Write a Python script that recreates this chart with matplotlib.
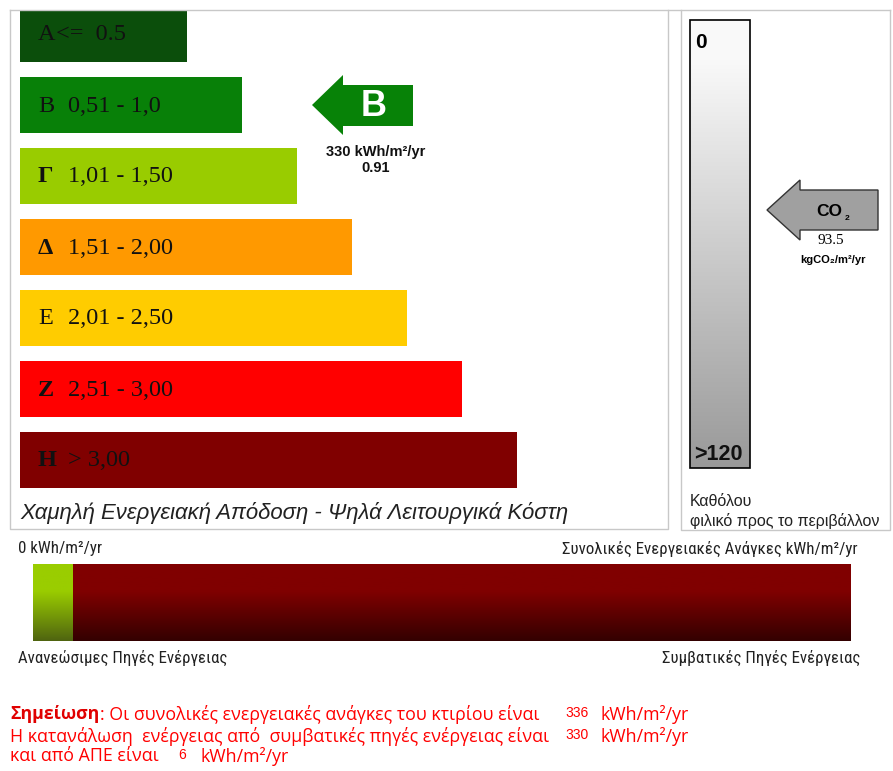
import numpy as np
import matplotlib
matplotlib.use("Agg")
import matplotlib.pyplot as plt
from matplotlib.patches import Polygon, Rectangle
from matplotlib import font_manager
from matplotlib.font_manager import FontProperties

# --- data ---
class_letters = ["A", "B", "Γ", "Δ", "Ε", "Ζ", "Η"]
class_ranges = ["<=  0.5", "0,51 - 1,0", "1,01 - 1,50", "1,51 - 2,00", "2,01 - 2,50", "2,51 - 3,00", "> 3,00"]
class_upper = [0.5, 1.0, 1.5, 2.0, 2.5, 3.0, 3.5]
class_colors = ["#0b4e0b", "#088008", "#99cc00", "#ff9900", "#ffcc00", "#ff0000", "#800000"]
class_bold = [False, False, True, True, False, True, True]

rating_value = 0.91
rating_class = "B"
energy_kwh = 330
co2_value = 93.5
co2_scale = ["0", ">120"]

total_need = 336
conventional = 330
renewable = 6

W, H = 893, 771
fig = plt.figure(figsize=(W / 100, H / 100), dpi=100)
ax = fig.add_axes([0, 0, 1, 1])
ax.set_xlim(0, W)
ax.set_ylim(H, 0)
ax.axis("off")

# condensed sans face for the bar captions (Roboto Condensed if present)
def find_face(bold):
    prefs = ["Liberation Sans Narrow", "Roboto Condensed", "Open Sans Condensed", "DejaVu Sans Condensed"]
    cands = []
    for f in font_manager.fontManager.ttflist:
        w = f.weight if isinstance(f.weight, int) else (700 if f.weight == "bold" else 400)
        if f.style != "normal" or (w >= 600) != bold:
            continue
        if "Narrow" in f.name or "Condensed" in f.name or "ondensed" in f.fname or f.stretch in ("condensed", "semi-condensed"):
            cands.append(f)
    cands.sort(key=lambda f: min([i for i, p in enumerate(prefs) if p.split()[0] in f.name] or [99]))
    return cands[0] if cands else None

nf = find_face(False)
NARROW = FontProperties(fname=nf.fname) if nf else FontProperties(family="Liberation Sans")

SANS = ["Liberation Sans", "DejaVu Sans"]
SERIF = ["Liberation Serif", "DejaVu Serif"]
WIDE = ["Open Sans", "DejaVu Sans"]

def ntext(x, y, s, size, **kw):
    fp = NARROW.copy()
    fp.set_size(size)
    return ax.text(x, y, s, fontproperties=fp, **kw)

edge = "#c8c8c8"
# panel frames
ax.plot([10, 890], [10, 10], color=edge, lw=1)
ax.plot([10, 10, 668, 668], [10, 529, 529, 10], color=edge, lw=1)
ax.plot([681, 681, 890, 890], [10, 530, 530, 10], color=edge, lw=1)

# energy class bars
row_h, row_step, first_center = 56, 71, 34
centers = [first_center + row_step * i for i in range(len(class_letters))]
lengths = [112 + 110 * u for u in class_upper]
bars = ax.barh(centers, lengths, height=row_h, left=20, color=class_colors)
clip = Rectangle((10, 10), 658, 519, transform=ax.transData)
for b in bars:
    b.set_clip_path(clip)
for c, let, rng, bold in zip(centers, class_letters, class_ranges, class_bold):
    ax.text(38, c + 1, let, fontsize=17.5, family=SERIF, fontweight="bold" if bold else "normal",
            va="center", ha="left", color="#111111")
    ax.text(56 if let == "A" else 68, c + 1, rng, fontsize=17.5, family=SERIF, va="center", ha="left",
            color="#111111")

# rating arrow
ri = class_letters.index(rating_class)
cy = centers[ri]
arrow = Polygon([(312, cy), (343, cy - 30), (343, cy - 20), (413, cy - 20),
                 (413, cy + 21), (343, cy + 21), (343, cy + 30)],
                closed=True, facecolor="#078207", edgecolor="none")
ax.add_patch(arrow)
ax.text(374, cy + 2, rating_class, fontsize=26, family=SANS, fontweight="bold", color="white",
        ha="center", va="center")
ax.text(376, cy + 47, f"{energy_kwh} kWh/m²/yr", fontsize=10.5, family=SANS, fontweight="bold",
        ha="center", va="center", color="#111111")
ax.text(376, cy + 63, f"{rating_value:.2f}", fontsize=10.5, family=SANS, fontweight="bold",
        ha="center", va="center", color="#111111")

ax.text(20, 513, "Χαμηλή Ενεργειακή Απόδοση - Ψηλά Λειτουργικά Κόστη", fontsize=15.9,
        family=SANS, style="italic", ha="left", va="center", color="#222222")

# CO2 scale bar
gx0, gx1, gy0, gy1 = 690, 750, 20, 468
t = np.linspace(0, 1, 200)
t = np.clip((t - 0.08) / 0.92, 0, 1)
c0 = np.array([0.98, 0.98, 0.98])
c1 = np.array([0.60, 0.60, 0.60])
grad = c0[None, :] * (1 - t[:, None]) + c1[None, :] * t[:, None]
ax.imshow(grad[:, None, :], extent=(gx0, gx1, gy1, gy0), origin="upper", aspect="auto", zorder=1)
ax.add_patch(Rectangle((gx0, gy0), gx1 - gx0, gy1 - gy0, fill=False, edgecolor="black", lw=1.2, zorder=2))
ax.text(695, 42, co2_scale[0], fontsize=15, family=SANS, fontweight="bold", ha="left", va="center")
ax.text(694, 454, co2_scale[1], fontsize=15.5, family=SANS, fontweight="bold", ha="left", va="center",
        color="#111111")
ax.text(690, 502, "Καθόλου", fontsize=11.5, family=SANS, ha="left", va="center", color="#222222")
ax.text(690, 521, "φιλικό προς το περιβάλλον", fontsize=11.5, family=SANS, ha="left", va="center",
        color="#222222")

# CO2 arrow
co2y = 210
co2_arrow = Polygon([(767, co2y), (800, co2y - 30), (800, co2y - 20), (878, co2y - 20),
                     (878, co2y + 20), (800, co2y + 20), (800, co2y + 30)],
                    closed=True, facecolor="#a0a0a0", edgecolor="#333333", lw=1)
ax.add_patch(co2_arrow)
ax.text(829, co2y + 2, "CO", fontsize=12.5, family=SANS, fontweight="bold", ha="center", va="center")
ax.text(847, co2y + 9, "2", fontsize=6, family=SANS, fontweight="bold", ha="center", va="center")
ax.text(831, 241, f"{co2_value}", fontsize=11, family=SERIF, ha="center", va="center")
ax.text(833, 260, "kgCO₂/m²/yr", fontsize=8, family=SANS, fontweight="bold", ha="center", va="center")

# renewable / conventional bar
bx0, bx1, by0, by1 = 33, 851, 564, 641
scale = (bx1 - bx0) / total_need
renew_w = max(renewable, 0.049 * total_need) * scale
segs = ax.barh([(by0 + by1) / 2] * 2, [renew_w, (bx1 - bx0) - renew_w],
               left=[bx0, bx0 + renew_w], height=by1 - by0, color=["#8fb300", "#700000"])
grad_cols = [("#9acd00", "#4f6410"), ("#800000", "#330000")]
for seg, (ctop, cbot) in zip(segs, grad_cols):
    a = np.array(matplotlib.colors.to_rgb(ctop))
    b = np.array(matplotlib.colors.to_rgb(cbot))
    tt = np.linspace(0, 1, 200)
    tt = np.clip((tt - 0.35) / 0.65, 0, 1)
    g = a[None, :] * (1 - tt[:, None]) + b[None, :] * tt[:, None]
    x, y = seg.get_x(), seg.get_y()
    im = ax.imshow(g[:, None, :], extent=(x, x + seg.get_width(), y + seg.get_height(), y),
                   origin="upper", aspect="auto", zorder=3)
    im.set_clip_path(seg)
ax.set_xlim(0, W)
ax.set_ylim(H, 0)

lfs = 12.2
ntext(18, 549, "0 kWh/m²/yr", lfs, ha="left", va="center", color="#222222")
ntext(858, 549, "Συνολικές Ενεργειακές Ανάγκες kWh/m²/yr", lfs, ha="right", va="center", color="#222222")
ntext(18, 658, "Ανανεώσιμες Πηγές Ενέργειας", lfs, ha="left", va="center", color="#222222")
ntext(860, 658, "Συμβατικές Πηγές Ενέργειας", lfs, ha="right", va="center", color="#222222")

# notes
red = "#ff0000"
nfs = 12.8
head = ax.text(10, 714, "Σημείωση", fontsize=nfs, family=WIDE, fontweight="bold", color="#e00000",
               ha="left", va="center")
renderer = fig.canvas.get_renderer()
hx = ax.transData.inverted().transform(head.get_window_extent(renderer))[1][0]
ax.text(hx + 1, 714, ": Οι συνολικές ενεργειακές ανάγκες του κτιρίου είναι", fontsize=nfs, family=WIDE,
        color=red, ha="left", va="center")
ax.text(10, 736, "Η κατανάλωση  ενέργειας από  συμβατικές πηγές ενέργειας είναι", fontsize=nfs,
        family=WIDE, color=red, ha="left", va="center")
ax.text(10, 756, "και από ΑΠΕ είναι", fontsize=nfs, family=WIDE, color=red, ha="left", va="center")
for yv, val in [(713, total_need), (735, conventional)]:
    ax.text(565, yv, f"{val}", fontsize=10, family=SANS, color=red, ha="left", va="center")
    ax.text(600, yv + 1, "kWh/m²/yr", fontsize=nfs, family=WIDE, color=red, ha="left", va="center")
ax.text(178, 755, f"{renewable}", fontsize=10, family=SANS, color=red, ha="left", va="center")
ax.text(200, 756, "kWh/m²/yr", fontsize=nfs, family=WIDE, color=red, ha="left", va="center")

fig.savefig("out.png", dpi=100, facecolor="white")
